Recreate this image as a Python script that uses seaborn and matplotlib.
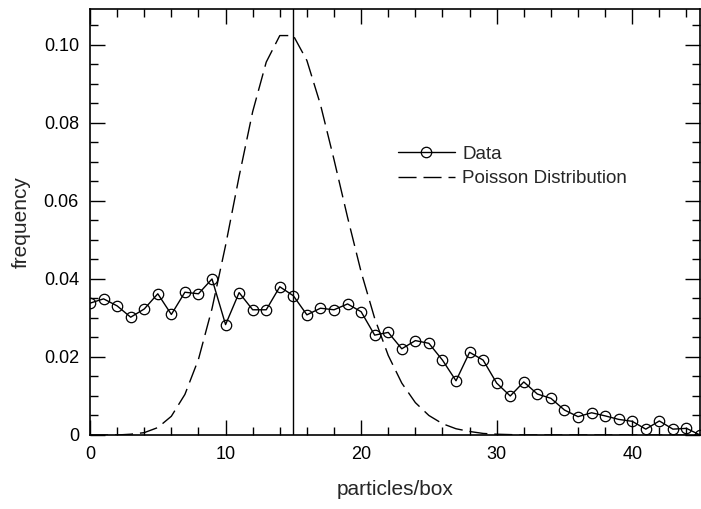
import numpy as np
import pandas as pd
import matplotlib
matplotlib.use("Agg")
import matplotlib.pyplot as plt
from matplotlib.ticker import MultipleLocator, FuncFormatter
import seaborn as sns

# --- data ---
particles = list(range(0, 46))
data_freq = [0.0338, 0.0349, 0.0331, 0.0302, 0.0323, 0.0362, 0.0309, 0.0366,
             0.0362, 0.0400, 0.0283, 0.0365, 0.0321, 0.0321, 0.0380, 0.0357,
             0.0308, 0.0325, 0.0321, 0.0336, 0.0316, 0.0256, 0.0263, 0.0221,
             0.0242, 0.0235, 0.0192, 0.0139, 0.0212, 0.0192, 0.0133, 0.0100,
             0.0136, 0.0105, 0.0094, 0.0064, 0.0047, 0.0057, 0.0049, 0.0040,
             0.0035, 0.0015, 0.0036, 0.0015, 0.0017, 0.0000]
poisson_freq = [0.0000, 0.0000, 0.0000, 0.0002, 0.0006, 0.0019, 0.0048, 0.0104,
                0.0194, 0.0324, 0.0486, 0.0663, 0.0829, 0.0956, 0.1024, 0.1024,
                0.0960, 0.0847, 0.0706, 0.0558, 0.0418, 0.0299, 0.0204, 0.0133,
                0.0083, 0.0050, 0.0029, 0.0016, 0.0009, 0.0004, 0.0002, 0.0001,
                0.0000, 0.0000, 0.0000, 0.0000, 0.0000, 0.0000, 0.0000, 0.0000,
                0.0000, 0.0000, 0.0000, 0.0000, 0.0000, 0.0000]
mean_particles = 15

df = pd.DataFrame({"particles": particles, "data": data_freq, "poisson": poisson_freq})

sns.set_style("ticks")
plt.rcParams["font.family"] = ["Liberation Sans", "DejaVu Sans"]

fig = plt.figure(figsize=(7.01, 5.09), dpi=100)
ax = fig.add_axes([0.1284, 0.1454, 0.8702, 0.8376])

sns.lineplot(data=df, x="particles", y="data", ax=ax, color="black", lw=1.0,
             marker="o", markersize=7.5, markerfacecolor="none",
             markeredgecolor="black", markeredgewidth=0.9, label="Data")
sns.lineplot(data=df, x="particles", y="poisson", ax=ax, color="black", lw=1.0,
             linestyle=(0, (13, 5)), label="Poisson Distribution")
ax.axvline(mean_particles, color="black", lw=1.0)

ax.set_xlim(0, 45)
ax.set_ylim(0, 0.1093)
ax.xaxis.set_major_locator(MultipleLocator(10))
ax.xaxis.set_minor_locator(MultipleLocator(2))
ax.yaxis.set_major_locator(MultipleLocator(0.02))
ax.yaxis.set_minor_locator(MultipleLocator(0.005))
ax.yaxis.set_major_formatter(FuncFormatter(lambda v, p: "0" if abs(v) < 1e-9 else f"{v:.2f}"))
ax.xaxis.set_major_formatter(FuncFormatter(lambda v, p: f"{v:.0f}"))

ax.tick_params(which="both", direction="in", top=True, right=True, width=1.0,
               labelsize=13, colors="black")
ax.tick_params(which="major", length=11, pad=8)
ax.tick_params(which="minor", length=6)
for s in ax.spines.values():
    s.set_linewidth(1.2)
    s.set_color("black")

ax.set_xlabel("particles/box", fontsize=15, labelpad=12)
ax.set_ylabel("frequency", fontsize=15, labelpad=9)

ax.legend(loc="center left", bbox_to_anchor=(0.49, 0.63), frameon=False,
          fontsize=13.5, handlelength=3.0, handletextpad=0.4,
          borderpad=0, labelspacing=0.4)

fig.savefig("out.png", dpi=100)
